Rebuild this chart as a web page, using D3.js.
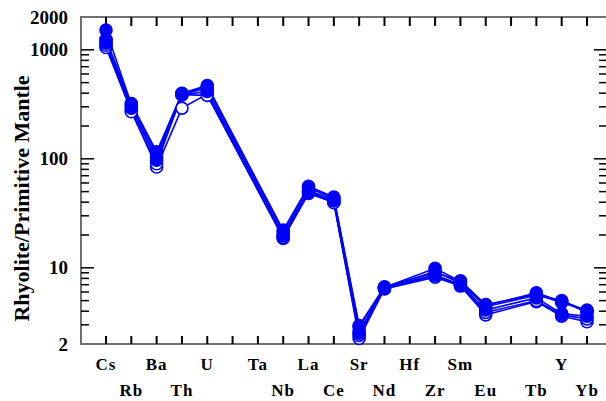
<!DOCTYPE html>
<html>
<head>
<meta charset="utf-8">
<script src="https://cdn.jsdelivr.net/npm/d3@7"></script>
<style>
  html, body { margin: 0; padding: 0; background: #fff; }
  svg { display: block; }
  text { font-family: "Liberation Serif", "DejaVu Serif", serif; font-weight: bold; fill: #000; }
</style>
</head>
<body>
<svg id="chart" width="606" height="401"></svg>
<script>
// Element order along the x axis (blank slots keep their tick but carry no label)
const elements = ["Cs","Rb","Ba","Th","U","","Ta","Nb","La","Ce","Sr","Nd","Hf","Zr","Sm","Eu","","Tb","Y","Yb"];

// Normalised concentrations per sample (null = not analysed)
const sampleA = [1520, 315, 112, 400, 470, null, null, 21.5, 54, 43.5, 2.85, 6.6, null, 9.9, 7.5, 4.5, null, 5.9, 4.9, 3.9];
const sampleB = [1220, 300, 104, 392, 445, null, null, 20.2, 51, 42.5, 2.6, 6.5, null, 9.3, 7.2, 4.4, null, 5.6, 5.0, 4.0];
const sampleC = [1050, 275, 84, 292, 392, null, null, 18.6, 48, 40, 2.25, 6.4, null, 8.2, 6.8, 3.7, null, 4.9, 3.6, 3.2];
const sampleD = [1150, 292, 97, 385, 415, null, null, 19.6, 50, 41, 2.5, 6.6, null, 8.6, 7.0, 4.1, null, 5.3, 3.8, 3.6];
const sampleE = [1100, 270, 90, 388, 382, null, null, 19.0, 49, 39.5, 2.4, 6.5, null, 8.4, 6.9, 3.9, null, 5.0, 3.7, 3.4];
const sampleF = [1250, 322, 116, 396, 458, null, null, 22.2, 56, 44.5, 2.95, 6.7, null, 9.0, 7.6, 4.6, null, 5.7, 4.8, 4.1];

// open-symbol samples first so the filled symbols sit on top of them
const samples = [
  { values: sampleC, open: true },
  { values: sampleE, open: true },
  { values: sampleA, open: false },
  { values: sampleB, open: false },
  { values: sampleD, open: false },
  { values: sampleF, open: false }
];

const yTickLabels = [2, 10, 100, 1000, 2000];
const yTitle = "Rhyolite/Primitive Mantle";

const svg = d3.select("#chart");
const plotLeft = 81, plotRight = 607, plotTop = 17, plotBottom = 344;

const x = d3.scaleLinear().domain([0, elements.length - 1]).range([106, 587]);
const y = d3.scaleLog().domain([2, 2000]).range([plotBottom, plotTop]);

const blue = "#0000ff";

// minor/major tick values on the log axis
const majors = [10, 100, 1000];
const minors = [];
[1, 10, 100].forEach(d => { for (let k = 2; k <= 9; k++) { const v = d * k; if (v > 2 && v < 2000 && !majors.includes(v)) minors.push(v); } });

// Frame
const frame = svg.append("g");
frame.append("rect")
  .attr("x", plotLeft).attr("y", plotTop)
  .attr("width", plotRight - plotLeft).attr("height", plotBottom - plotTop)
  .attr("fill", "none").attr("stroke", "#707070").attr("stroke-width", 2);

// Bottom and top ticks
const xIdx = d3.range(elements.length);
frame.append("g").selectAll("line").data(xIdx).join("line")
  .attr("x1", d => x(d)).attr("x2", d => x(d))
  .attr("y1", plotBottom).attr("y2", plotBottom - 8)
  .attr("stroke", "#000").attr("stroke-width", 2);
frame.append("g").selectAll("line").data(xIdx).join("line")
  .attr("x1", d => x(d)).attr("x2", d => x(d))
  .attr("y1", plotTop).attr("y2", plotTop + 9)
  .attr("stroke", "#000").attr("stroke-width", 2);

// Left and right ticks
function yTicks(xEdge, dir) {
  frame.append("g").selectAll("line").data(majors).join("line")
    .attr("x1", xEdge).attr("x2", xEdge + dir * 13)
    .attr("y1", d => y(d)).attr("y2", d => y(d))
    .attr("stroke", "#000").attr("stroke-width", 1.5);
  frame.append("g").selectAll("line").data(minors).join("line")
    .attr("x1", xEdge).attr("x2", xEdge + dir * 8)
    .attr("y1", d => y(d)).attr("y2", d => y(d))
    .attr("stroke", "#000").attr("stroke-width", 1.5);
}
yTicks(plotLeft, 1);
yTicks(plotRight, -1);

// Y tick labels
svg.append("g").selectAll("text").data(yTickLabels).join("text")
  .attr("x", 68).attr("y", d => y(d))
  .attr("dy", "0.35em")
  .attr("text-anchor", "end")
  .attr("font-size", 19)
  .text(d => d);

// Y title
svg.append("text")
  .attr("transform", `translate(29, ${(plotTop + plotBottom) / 2 + 18}) rotate(-90)`)
  .attr("text-anchor", "middle")
  .attr("font-size", 22)
  .text(yTitle);

// X labels alternate between two rows
svg.append("g").selectAll("text").data(xIdx.filter(i => elements[i] !== "")).join("text")
  .attr("x", i => x(i))
  .attr("y", i => (i % 2 === 0 ? 370 : 396))
  .attr("text-anchor", "middle")
  .attr("font-size", 17)
  .attr("letter-spacing", 1)
  .text(i => elements[i]);

// Sample patterns
const line = d3.line()
  .x(d => x(d.i))
  .y(d => y(d.v));

const plot = svg.append("g");
samples.forEach(s => {
  const pts = s.values.map((v, i) => ({ i, v })).filter(d => d.v != null);
  plot.append("path")
    .datum(pts)
    .attr("d", line)
    .attr("fill", "none")
    .attr("stroke", blue)
    .attr("stroke-width", 1.6);
});
samples.forEach(s => {
  const pts = s.values.map((v, i) => ({ i, v })).filter(d => d.v != null);
  plot.append("g").selectAll("circle").data(pts).join("circle")
    .attr("cx", d => x(d.i))
    .attr("cy", d => y(d.v))
    .attr("r", 6)
    .attr("fill", s.open ? "#fff" : blue)
    .attr("stroke", blue)
    .attr("stroke-width", 1.6);
});
</script>
</body>
</html>
